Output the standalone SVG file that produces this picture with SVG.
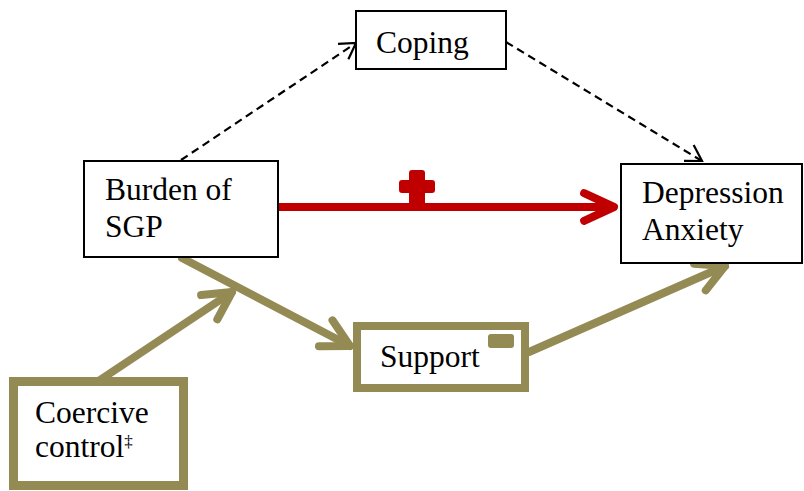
<svg xmlns="http://www.w3.org/2000/svg" width="804" height="491" viewBox="0 0 804 491">
<style>
.box{fill:#fff;stroke:#000;stroke-width:2}
.obox{fill:#fff;stroke:#948A54}
.t{font-family:"Liberation Serif","Times New Roman",serif;font-size:31.5px;fill:#000}
.dash{fill:none;stroke:#000;stroke-width:2.2;stroke-dasharray:8 5}
.olive{fill:none;stroke:#948A54;stroke-width:8;stroke-linecap:round}
.red{fill:none;stroke:#C00000;stroke-width:8}
</style>
<defs>
<marker id="mo" markerUnits="userSpaceOnUse" markerWidth="60" markerHeight="60" viewBox="-40 -30 60 60" refX="0" refY="0" orient="auto" overflow="visible">
<path d="M-27.4,-14.6 L0,0 L-27.4,14.6" fill="none" stroke="#948A54" stroke-width="8" stroke-linecap="round" stroke-linejoin="round"/>
</marker>
<marker id="mr" markerUnits="userSpaceOnUse" markerWidth="60" markerHeight="60" viewBox="-40 -30 60 60" refX="0" refY="0" orient="auto" overflow="visible">
<path d="M-29.9,-13.9 L0,0 L-29.9,13.9" fill="none" stroke="#C00000" stroke-width="8" stroke-linecap="round" stroke-linejoin="round"/>
</marker>
<marker id="md" markerUnits="userSpaceOnUse" markerWidth="40" markerHeight="40" viewBox="-20 -20 40 40" refX="0" refY="0" orient="auto" overflow="visible">
<path d="M-15.4,-9.3 L0,0 L-15.4,9.3" fill="none" stroke="#000" stroke-width="2.2"/>
</marker>
</defs>
<g id="connectors">
<path class="dash" d="M181,160 L356,43" marker-end="url(#md)"/>
<path class="dash" d="M506,42 L702,161" marker-end="url(#md)"/>
<path class="red" d="M278,207 L614,207" marker-end="url(#mr)"/>
<g fill="#C00000">
<rect x="409" y="170" width="16" height="37" rx="3"/>
<rect x="399" y="180" width="36" height="13" rx="3"/>
</g>
<path class="olive" d="M182,258 L350,346" marker-end="url(#mo)"/>
<path class="olive" d="M100,380 L232,292" marker-end="url(#mo)"/>
<path class="olive" d="M529,352 L725,266" marker-end="url(#mo)"/>
</g>
<g id="coping">
<rect class="box" x="356" y="11" width="150" height="58"/>
<text class="t" x="376" y="53">Coping</text>
</g>
<g id="burden">
<rect class="box" x="84" y="161" width="194" height="96"/>
<text class="t" x="105" y="200">Burden of</text>
<text class="t" x="105" y="237">SGP</text>
</g>
<g id="depression">
<rect class="box" x="621" y="164" width="181" height="99"/>
<text class="t" x="642" y="203">Depression</text>
<text class="t" x="642" y="240">Anxiety</text>
</g>
<g id="support">
<rect class="obox" x="357" y="326" width="168" height="62" stroke-width="8"/>
<text class="t" x="380" y="367">Support</text>
<rect x="488" y="334" width="26" height="14" rx="3" fill="#948A54"/>
</g>
<g id="coercive">
<rect class="obox" x="13.5" y="381.5" width="170" height="104" stroke-width="9"/>
<text class="t" x="35" y="423">Coercive</text>
<text class="t" x="35" y="457">control<tspan font-size="17" dy="-10">‡</tspan></text>
</g>
</svg>
